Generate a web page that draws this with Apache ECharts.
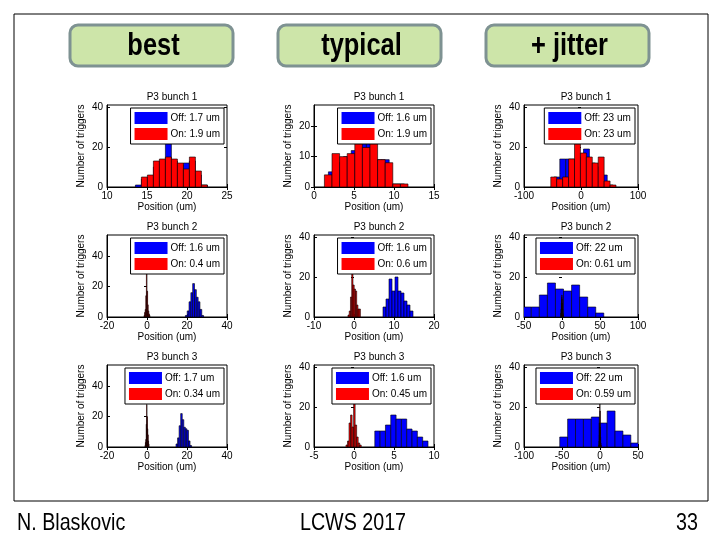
<!DOCTYPE html>
<html><head><meta charset="utf-8">
<script src="https://cdn.jsdelivr.net/npm/echarts@6/dist/echarts.min.js"></script>
<style>html,body{margin:0;padding:0;background:#fff}#c{width:720px;height:540px}</style>
</head><body><div id="c"></div><script>
// ---------- text ----------
const columnLabels = ['best', 'typical', '+ jitter'];
const rowTitles = ['P3 bunch 1', 'P3 bunch 2', 'P3 bunch 3'];
const footerTexts = ['N. Blaskovic', 'LCWS 2017', '33'];
const xAxisName = 'Position (um)';
const yAxisName = 'Number of triggers';

// panels in row-major order: bunch1 (best, typical, jitter), bunch2 (...), bunch3 (...)
const offLegend = ['Off: 1.7 um', 'Off: 1.6 um', 'Off: 23 um', 'Off: 1.6 um', 'Off: 1.6 um', 'Off: 22 um', 'Off: 1.7 um', 'Off: 1.6 um', 'Off: 22 um'];
const onLegend = ['On: 1.9 um', 'On: 1.9 um', 'On: 23 um', 'On: 0.4 um', 'On: 0.6 um', 'On: 0.61 um', 'On: 0.34 um', 'On: 0.45 um', 'On: 0.59 um'];

// ---------- axes ----------
const xRanges = [[10, 25], [0, 15], [-100, 100], [-20, 40], [-10, 20], [-50, 100], [-20, 40], [-5, 10], [-100, 50]];
const xTickValues = [[10, 15, 20, 25], [0, 5, 10, 15], [-100, 0, 100], [-20, 0, 20, 40], [-10, 0, 10, 20], [-50, 0, 50, 100], [-20, 0, 20, 40], [-5, 0, 5, 10], [-100, -50, 0, 50]];
const yMaxValues = [41, 27, 41, 54, 41, 41, 54, 41, 41];
const yTickValues = [[0, 20, 40], [0, 10, 20], [0, 20, 40], [0, 20, 40], [0, 20, 40], [0, 20, 40], [0, 20, 40], [0, 20, 40], [0, 20, 40]];

// ---------- histogram bins (um): first bin edge and bin width ----------
const offBinStart = [13.55, 1.8, -47.6, 19.2, 7.25, -51, 14.5, 2.6, -53];
const offBinWidth = [0.75, 0.95, 10.4, 0.91, 0.75, 10.6, 0.78, 0.665, 10.4];
const onBinStart = [14.3, 1.3, -53, -1.5, -1.5, -1.5, -1.0, -1.0, -1.5];
const onBinWidth = [0.75, 0.95, 10.4, 0.3, 0.31, 0.3, 0.2, 0.19, 0.3];

// ---------- counts ----------
const best1Off = [1, 4, 5, 10, 13, 24, 13, 11, 12, 13, 6, 1];
const best1On = [5, 6, 13, 14, 15, 14, 12, 9, 15, 8, 1];
const typical1Off = [5, 8, 10, 12, 16, 15, 9, 9, 1, 1];
const typical1On = [4, 11, 10, 11, 16, 13, 16, 9, 8, 1, 1];
const jitter1Off = [5, 14, 14, 14, 15, 19, 12, 10, 6, 1];
const jitter1On = [5, 4, 5, 14, 22, 17, 15, 12, 15, 3, 1];
const best2Off = [1, 4, 10, 16, 22, 18, 13, 10, 5, 1];
const best2On = [1, 3, 5, 14, 45, 17, 8, 4, 2, 1];
const typical2Off = [5, 9, 19, 13, 20, 13, 12, 8, 6, 3];
const typical2On = [1, 3, 10, 27, 16, 14, 13, 6, 4, 4];
const jitter2Off = [5, 5, 11, 17, 14, 13, 16, 10, 5, 2];
const jitter2On = [2, 4, 7, 10, 11, 9, 7, 4, 2, 1];
const best3Off = [2, 6, 14, 22, 18, 13, 12, 11, 4, 1];
const best3On = [1, 3, 5, 15, 28, 20, 12, 8, 4, 2];
const typical3Off = [8, 8, 11, 16, 14, 14, 9, 8, 5, 3];
const typical3On = [1, 3, 12, 16, 10, 24, 11, 5, 2, 1];
const jitter3Off = [5, 14, 14, 14, 15, 12, 18, 8, 6, 2];
const jitter3On = [1, 3, 6, 12, 23, 18, 10, 5, 2, 1];

const offCounts = [best1Off, typical1Off, jitter1Off, best2Off, typical2Off, jitter2Off, best3Off, typical3Off, jitter3Off];
const onCounts = [best1On, typical1On, jitter1On, best2On, typical2On, jitter2On, best3On, typical3On, jitter3On];

// ---------- layout ----------
const colBoxes = [{ left: 107, width: 120 }, { left: 314, width: 120 }, { left: 524, width: 114 }];
const rowBoxes = [{ top: 105, height: 82 }, { top: 235, height: 82 }, { top: 365, height: 82 }];
const W = 720;
const plotFont = '"Liberation Sans", Arial, sans-serif';
const slideFont = '"Liberation Sans", Arial, sans-serif';
const NARROW = 0.82;
const OFF_COLOR = '#0000ff';
const ON_COLOR = '#ff0000';

function toBins(counts, start, width) {
  return counts.map((c, i) => [start + i * width, start + (i + 1) * width, c]);
}
function renderBar(params, api) {
  const a = api.coord([api.value(0), 0]);
  const b = api.coord([api.value(1), api.value(2)]);
  return {
    type: 'rect',
    shape: { x: a[0], y: b[1], width: b[0] - a[0], height: a[1] - b[1] },
    style: { fill: api.visual('color'), stroke: '#000', lineWidth: 0.6 }
  };
}

const grids = [], xAxes = [], yAxes = [], series = [], legends = [], titles = [];
const mirrorX = [], mirrorY = [];
for (let r = 0; r < 3; r++) {
  for (let c = 0; c < 3; c++) {
    const k = r * 3 + c;
    const g = { left: colBoxes[c].left, width: colBoxes[c].width, top: rowBoxes[r].top, height: rowBoxes[r].height };
    grids.push(Object.assign({ show: true, borderColor: '#000', borderWidth: 1, backgroundColor: '#fff', containLabel: false }, g));
    xAxes.push({
      gridIndex: k, type: 'value', position: 'bottom', min: xRanges[k][0], max: xRanges[k][1],
      axisLine: { show: true, onZero: false, lineStyle: { color: '#000', width: 1 } },
      axisTick: { show: true, inside: true, length: 3, customValues: xTickValues[k], lineStyle: { color: '#000' } },
      axisLabel: { customValues: xTickValues[k], color: '#000', fontSize: 10, margin: 4, fontFamily: plotFont },
      splitLine: { show: false },
      name: xAxisName, nameLocation: 'middle', nameGap: 14,
      nameTextStyle: { color: '#000', fontSize: 10, fontFamily: plotFont }
    });
    yAxes.push({
      gridIndex: k, type: 'value', position: 'left', min: 0, max: yMaxValues[k],
      axisLine: { show: true, onZero: false, lineStyle: { color: '#000', width: 1 } },
      axisTick: { show: true, inside: true, length: 3, customValues: yTickValues[k], lineStyle: { color: '#000' } },
      axisLabel: { customValues: yTickValues[k], color: '#000', fontSize: 10, margin: 4, fontFamily: plotFont },
      splitLine: { show: false },
      name: yAxisName, nameLocation: 'middle', nameGap: 21,
      nameTextStyle: { color: '#000', fontSize: 10, fontFamily: plotFont }
    });
    mirrorX.push({
      gridIndex: k, type: 'value', position: 'top', min: xRanges[k][0], max: xRanges[k][1],
      axisLine: { show: false }, axisLabel: { show: false }, splitLine: { show: false },
      axisTick: { show: true, inside: true, length: 3, customValues: xTickValues[k], lineStyle: { color: '#000' } }
    });
    mirrorY.push({
      gridIndex: k, type: 'value', position: 'right', min: 0, max: yMaxValues[k],
      axisLine: { show: false }, axisLabel: { show: false }, splitLine: { show: false },
      axisTick: { show: true, inside: true, length: 3, customValues: yTickValues[k], lineStyle: { color: '#000' } }
    });
    series.push({
      type: 'custom', name: offLegend[k], xAxisIndex: k, yAxisIndex: k, clip: true, silent: true,
      itemStyle: { color: OFF_COLOR }, renderItem: renderBar, encode: { x: [0, 1], y: 2 },
      data: toBins(offCounts[k], offBinStart[k], offBinWidth[k]), z: 2
    });
    series.push({
      type: 'custom', name: onLegend[k], xAxisIndex: k, yAxisIndex: k, clip: true, silent: true,
      itemStyle: { color: ON_COLOR }, renderItem: renderBar, encode: { x: [0, 1], y: 2 },
      data: toBins(onCounts[k], onBinStart[k], onBinWidth[k]), z: 3
    });
    legends.push({
      orient: 'vertical', right: W - (g.left + g.width) + 3, top: g.top + 3,
      data: [{ name: offLegend[k], icon: 'rect' }, { name: onLegend[k], icon: 'rect' }],
      backgroundColor: '#fff', borderColor: '#000', borderWidth: 1, padding: [4, 4, 4, 4],
      itemGap: 4, itemWidth: 33, itemHeight: 12, selectedMode: false,
      textStyle: { color: '#000', fontSize: 10, fontFamily: plotFont, padding: [0, 0, 0, -2] }
    });
    titles.push({
      text: rowTitles[r], left: g.left + g.width / 2, top: g.top - 18, textAlign: 'center',
      textStyle: { color: '#000', fontSize: 10, fontWeight: 'normal', fontFamily: plotFont }
    });
  }
}

const labelBoxes = [{ x: 70, w: 163 }, { x: 278, w: 163 }, { x: 486, w: 163 }];
const graphics = [
  { type: 'rect', shape: { x: 14, y: 14, width: 694, height: 487 }, style: { fill: 'none', stroke: '#000', lineWidth: 1 }, z: 0 }
];
columnLabels.forEach((t, i) => {
  graphics.push({ type: 'rect', shape: { x: labelBoxes[i].x, y: 25, width: labelBoxes[i].w, height: 41, r: 8 },
    style: { fill: '#cde5a9', stroke: '#7e9292', lineWidth: 3 }, z: 10 });
  graphics.push({ type: 'text', x: labelBoxes[i].x + labelBoxes[i].w / 2 + 2, y: 46, scaleX: NARROW,
    style: { text: t, fill: '#000', font: 'bold 31px ' + slideFont, textAlign: 'center', textVerticalAlign: 'middle' }, z: 11 });
});
graphics.push({ type: 'text', x: 17, y: 523, scaleX: NARROW, style: { text: footerTexts[0], fill: '#000', font: '24px ' + slideFont, textAlign: 'left', textVerticalAlign: 'middle' } });
graphics.push({ type: 'text', x: 353, y: 523, scaleX: NARROW, style: { text: footerTexts[1], fill: '#000', font: '24px ' + slideFont, textAlign: 'center', textVerticalAlign: 'middle' } });
graphics.push({ type: 'text', x: 698, y: 523, scaleX: NARROW, style: { text: footerTexts[2], fill: '#000', font: '24px ' + slideFont, textAlign: 'right', textVerticalAlign: 'middle' } });

const chart = echarts.init(document.getElementById('c'), null, { renderer: 'canvas' });
chart.setOption({
  animation: false,
  backgroundColor: '#fff',
  title: titles,
  grid: grids,
  xAxis: xAxes.concat(mirrorX),
  yAxis: yAxes.concat(mirrorY),
  legend: legends,
  series: series,
  graphic: graphics
});
</script></body></html>
